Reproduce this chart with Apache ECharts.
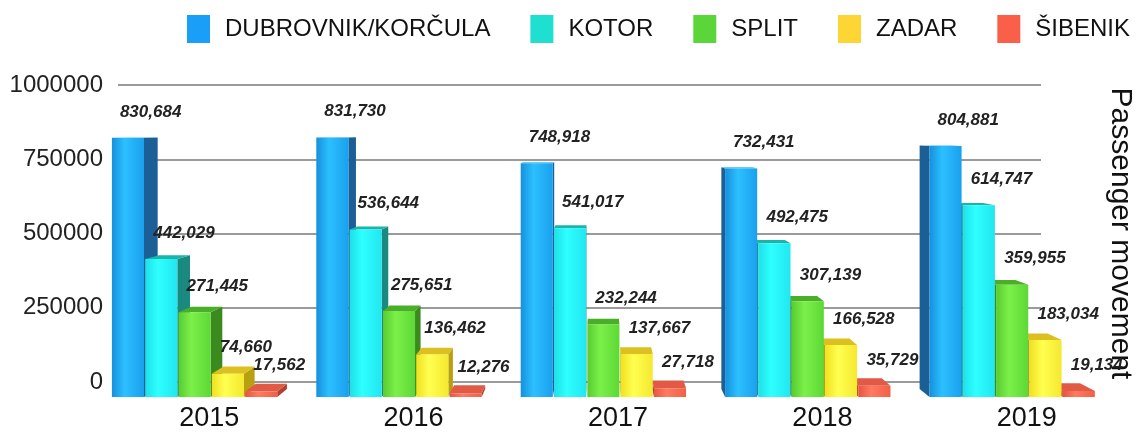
<!DOCTYPE html>
<html>
<head>
<meta charset="utf-8">
<script src="https://cdn.jsdelivr.net/npm/echarts@6/dist/echarts.min.js"></script>
<style>
  html, body { margin: 0; padding: 0; background: #fff; }
  #main { width: 1143px; height: 432px; }
</style>
</head>
<body>
<div id="main"></div>
<script>
var years = ['2015', '2016', '2017', '2018', '2019'];
var ports = ['DUBROVNIK/KORČULA', 'KOTOR', 'SPLIT', 'ZADAR', 'ŠIBENIK'];
var dubrovnik = [830684, 831730, 748918, 732431, 804881];
var kotor = [442029, 536644, 541017, 492475, 614747];
var split = [271445, 275651, 232244, 307139, 359955];
var zadar = [74660, 136462, 137667, 166528, 183034];
var sibenik = [17562, 12276, 27718, 35729, 19134];
var yTicks = [0, 250000, 500000, 750000, 1000000];

var portValues = [dubrovnik, kotor, split, zadar, sibenik];

// legend colour, front gradient, side, top
var palette = [
  { legend: '#1a9ff8', front: ['#1590dd', '#2cc0ff', '#1aa0ee'], side: '#1c5e96', top: '#3ab8f0' },
  { legend: '#1fe0d0', front: ['#1ee0e8', '#2effff', '#22e6f0'], side: '#1a8a80', top: '#19b5a8' },
  { legend: '#5ad63a', front: ['#58cc30', '#7cf04a', '#5cd835'], side: '#3a8a1e', top: '#4aae28' },
  { legend: '#fdd535', front: ['#f0e020', '#ffff50', '#f5e830'], side: '#b8a010', top: '#dcc020' },
  { legend: '#fa5f4a', front: ['#e85540', '#ff7a60', '#f06048'], side: '#b04030', top: '#e05a45' }
];

var FONT = '"Liberation Sans", Arial, sans-serif';
var GRID_GREY = '#9a9a9a';

var chart = echarts.init(document.getElementById('main'));

// fake perspective: back edges pulled toward a vanishing point
var VP = [600, 130];
var DEPTH = 0.03;
function back(p) {
  return [p[0] + (VP[0] - p[0]) * DEPTH, p[1] + (VP[1] - p[1]) * DEPTH];
}
function fmt(v) {
  return String(v).replace(/\B(?=(\d{3})+(?!\d))/g, ',');
}

function makeRender(idx) {
  var pal = palette[idx];
  return function (params, api) {
    var ci = api.value(0);
    var val = api.value(1);
    var base = api.coord([ci, 0]);
    var topPt = api.coord([ci, val]);
    var band = api.size([1, 0])[0];
    var step = band * 0.163;
    var w = band * 0.157;
    var x0 = base[0] - 2.5 * step + idx * step;
    var x1 = x0 + w;
    var yT = topPt[1];
    var yB = base[1];
    var children = [];

    // side face, on whichever side faces the vanishing point
    if (x1 < VP[0]) {
      children.push({
        type: 'polygon', z2: 1,
        shape: { points: [[x1, yT], [x1, yB], back([x1, yB]), back([x1, yT])] },
        style: { fill: pal.side }
      });
    } else if (x0 > VP[0]) {
      children.push({
        type: 'polygon', z2: 1,
        shape: { points: [[x0, yT], [x0, yB], back([x0, yB]), back([x0, yT])] },
        style: { fill: pal.side }
      });
    }
    if (yT > VP[1]) {
      children.push({
        type: 'polygon', z2: 2,
        shape: { points: [[x0, yT], [x1, yT], back([x1, yT]), back([x0, yT])] },
        style: { fill: pal.top }
      });
    }
    children.push({
      type: 'rect', z2: 10,
      shape: { x: x0, y: yT, width: w, height: yB - yT },
      style: {
        fill: new echarts.graphic.LinearGradient(0, 0, 1, 0, [
          { offset: 0, color: pal.front[0] },
          { offset: 0.4, color: pal.front[1] },
          { offset: 1, color: pal.front[2] }
        ])
      }
    });
    children.push({
      type: 'text', z2: 20,
      style: {
        text: fmt(val),
        x: x0 + 8,
        y: yT - 26,
        fill: '#222',
        font: 'italic bold 17px ' + FONT,
        align: 'left',
        verticalAlign: 'middle'
      }
    });
    return { type: 'group', children: children };
  };
}

var series = ports.map(function (name, i) {
  return {
    name: name,
    type: 'custom',
    xAxisIndex: 1,
    yAxisIndex: 2,
    itemStyle: { color: palette[i].legend },
    renderItem: makeRender(i),
    encode: { x: 0, y: 1 },
    data: portValues[i].map(function (v, j) { return [j, v]; })
  };
});

var option = {
  animation: false,
  legend: {
    left: 187,
    top: 15,
    width: 956,
    padding: 0,
    icon: 'rect',
    itemWidth: 23,
    itemHeight: 28,
    itemGap: 40,
    textStyle: {
      fontSize: 24,
      fontFamily: FONT,
      color: '#111',
      padding: [0, 0, 0, 10]
    },
    data: ports
  },
  grid: [
    { left: 118, right: 63, top: 85, bottom: 50 },  // back wall with gridlines
    { left: 93, right: 28, top: 85, bottom: 32 }    // bars, sitting lower in front
  ],
  xAxis: [
    {
      type: 'category', gridIndex: 0, data: years,
      axisLine: { show: true, onZero: false, lineStyle: { color: GRID_GREY, width: 2 } },
      axisTick: { show: false }, axisLabel: { show: false }
    },
    {
      type: 'category', gridIndex: 1, data: years,
      axisLine: { show: false }, axisTick: { show: false },
      axisLabel: {
        margin: 8,
        fontSize: 27,
        color: '#111',
        fontFamily: FONT,
        padding: [0, 0, 0, 28]
      }
    }
  ],
  yAxis: [
    {
      type: 'value', gridIndex: 0, min: 0, max: yTicks[yTicks.length - 1],
      interval: yTicks[1] - yTicks[0],
      axisLine: { show: false }, axisTick: { show: false },
      splitLine: { show: true, lineStyle: { color: GRID_GREY, width: 2 } },
      axisLabel: {
        margin: 15,
        fontSize: 24,
        color: '#222',
        fontFamily: FONT,
        showMinLabel: true,
        showMaxLabel: true,
        formatter: function (v) { return String(v); }
      }
    },
    {
      type: 'value', gridIndex: 0, position: 'right', min: 0, max: 1000000,
      axisLine: { show: false }, axisTick: { show: false },
      axisLabel: { show: false }, splitLine: { show: false },
      name: 'Passenger movement',
      nameLocation: 'middle',
      nameRotate: -90,
      nameGap: 64,
      nameTextStyle: {
        fontSize: 30,
        color: '#111',
        fontFamily: FONT
      }
    },
    {
      type: 'value', gridIndex: 1, min: 0, max: 1000000, show: false
    }
  ],
  series: series
};

chart.setOption(option);
</script>
</body>
</html>
